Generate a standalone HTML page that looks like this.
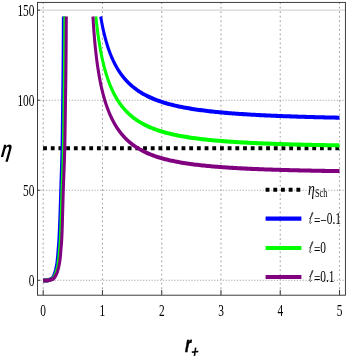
<!DOCTYPE html>
<html><head><meta charset="utf-8"><title>plot</title>
<style>
html,body{margin:0;padding:0;background:#fff;}
body{width:347px;height:360px;overflow:hidden;}
svg{display:block;}
.t{font-family:"Liberation Serif",serif;font-size:17px;fill:#000;}
.gv{stroke:#a6a6a6;stroke-width:1.1;stroke-dasharray:1.7 2.75;}
.gh{stroke:#a6a6a6;stroke-width:1.1;stroke-dasharray:1.2 1.65;}
.gh2{stroke:#a6a6a6;stroke-width:1.1;stroke-dasharray:0.9 1.1;}
.tk{stroke:#2a2a2a;stroke-width:0.9;}
.ax{font-family:"Liberation Sans",sans-serif;font-weight:bold;font-style:italic;fill:#000;}
</style></head><body>
<svg width="347" height="360" viewBox="0 0 347 360">
<rect x="0" y="0" width="347" height="360" fill="#fff"/>
<g fill="none">
<line x1="43.20" y1="2.40" x2="43.20" y2="295.20" class="gv"/>
<line x1="102.46" y1="2.40" x2="102.46" y2="295.20" class="gv"/>
<line x1="161.72" y1="2.40" x2="161.72" y2="295.20" class="gv"/>
<line x1="220.98" y1="2.40" x2="220.98" y2="295.20" class="gv"/>
<line x1="280.24" y1="2.40" x2="280.24" y2="295.20" class="gv"/>
<line x1="339.50" y1="2.40" x2="339.50" y2="295.20" class="gv"/>
<line x1="37.50" y1="280.30" x2="345.40" y2="280.30" class="gh"/>
<line x1="37.50" y1="190.25" x2="345.40" y2="190.25" class="gh"/>
<line x1="37.50" y1="100.20" x2="345.40" y2="100.20" class="gh"/>
<line x1="37.50" y1="10.15" x2="345.40" y2="10.15" class="gh2"/>

</g>
<g transform="scale(0.75,1)" fill="none" stroke-width="4.05" stroke-linejoin="round">
<path d="M57.47 148.15 H452.93" stroke="#000" stroke-width="4.05" stroke-dasharray="5.127 5.127"/>
<path d="M57.47 280.50 L62.41 280.45 L64.65 280.10 L68.75 278.78 L70.28 277.45 L71.25 276.13 L72.04 274.80 L72.74 273.48 L73.32 272.15 L73.82 270.83 L74.25 269.50 L74.64 268.18 L75.00 266.85 L75.31 265.53 L75.60 264.20 L75.85 262.88 L76.09 261.56 L76.30 260.23 L76.50 258.91 L76.67 257.58 L76.84 256.26 L76.99 254.93 L77.12 253.61 L77.25 252.28 L77.38 250.96 L77.52 249.63 L77.66 248.31 L77.81 246.98 L77.96 245.66 L78.11 244.34 L78.25 243.01 L78.38 241.69 L78.49 240.36 L78.58 239.04 L78.68 237.71 L78.77 236.39 L78.85 235.06 L78.94 233.74 L79.02 232.41 L79.10 231.09 L79.18 229.76 L79.26 228.44 L79.34 227.12 L79.41 225.79 L79.48 224.47 L79.55 223.14 L79.62 221.82 L79.69 220.49 L79.75 219.17 L79.82 217.84 L79.88 216.52 L79.94 215.19 L80.01 213.87 L80.07 212.54 L80.13 211.22 L80.19 209.89 L80.25 208.57 L80.31 207.25 L80.37 205.92 L80.42 204.60 L80.48 203.27 L80.54 201.95 L80.60 200.62 L80.66 199.30 L80.72 197.97 L80.77 196.65 L80.82 195.32 L80.87 194.00 L80.92 192.67 L80.97 191.35 L81.02 190.03 L81.07 188.70 L81.12 187.38 L81.18 186.05 L81.23 184.73 L81.29 183.40 L81.35 182.08 L81.40 180.75 L81.46 179.43 L81.52 178.10 L81.58 176.78 L81.64 175.45 L81.71 174.13 L81.77 172.81 L81.83 171.48 L81.89 170.16 L81.95 168.83 L82.01 167.51 L82.07 166.18 L82.12 164.86 L82.18 163.53 L82.23 162.21 L82.29 160.88 L82.34 159.56 L82.39 158.23 L82.44 156.91 L82.49 155.59 L82.53 154.26 L82.57 152.94 L82.61 151.61 L82.65 150.29 L82.68 148.96 L82.71 147.64 L82.75 146.31 L82.78 144.99 L82.81 143.66 L82.84 142.34 L82.87 141.01 L82.90 139.69 L82.93 138.37 L82.95 137.04 L82.98 135.72 L83.01 134.39 L83.03 133.07 L83.06 131.74 L83.08 130.42 L83.11 129.09 L83.13 127.77 L83.16 126.44 L83.18 125.12 L83.20 123.79 L83.22 122.47 L83.25 121.15 L83.27 119.82 L83.29 118.50 L83.31 117.17 L83.33 115.85 L83.36 114.52 L83.38 113.20 L83.40 111.87 L83.42 110.55 L83.44 109.22 L83.46 107.90 L83.48 106.57 L83.50 105.25 L83.52 103.93 L83.54 102.60 L83.57 101.28 L83.59 99.95 L83.61 98.63 L83.63 97.30 L83.65 95.98 L83.67 94.65 L83.70 93.33 L83.72 92.00 L83.74 90.68 L83.76 89.35 L83.78 88.03 L83.80 86.71 L83.82 85.38 L83.84 84.06 L83.87 82.73 L83.89 81.41 L83.91 80.08 L83.93 78.76 L83.95 77.43 L83.97 76.11 L83.98 74.78 L84.00 73.46 L84.02 72.13 L84.04 70.81 L84.06 69.48 L84.07 68.16 L84.09 66.84 L84.11 65.51 L84.12 64.19 L84.14 62.86 L84.15 61.54 L84.17 60.21 L84.18 58.89 L84.19 57.56 L84.21 56.24 L84.22 54.91 L84.23 53.59 L84.25 52.26 L84.26 50.94 L84.27 49.62 L84.29 48.29 L84.30 46.97 L84.31 45.64 L84.32 44.32 L84.33 42.99 L84.35 41.67 L84.36 40.34 L84.37 39.02 L84.38 37.69 L84.39 36.37 L84.40 35.04 L84.41 33.72 L84.42 32.40 L84.43 31.07 L84.44 29.75 L84.45 28.42 L84.46 27.10 L84.47 25.77 L84.48 24.45 L84.48 23.12 L84.49 21.80 L84.50 20.47 L84.51 19.15 L84.51 17.82 L84.52 16.50" stroke="#0000ff"/>
<path d="M134.25 16.50 L134.67 18.39 L135.09 20.15 L135.51 21.86 L135.93 23.51 L136.35 25.10 L136.76 26.65 L137.18 28.15 L137.60 29.60 L138.02 31.01 L138.44 32.37 L138.85 33.70 L139.27 34.99 L139.69 36.24 L140.11 37.46 L140.53 38.65 L140.95 39.80 L141.36 40.93 L141.78 42.02 L142.20 43.09 L142.62 44.13 L143.04 45.15 L143.45 46.14 L143.87 47.11 L144.29 48.06 L144.71 48.98 L145.13 49.89 L145.55 50.77 L145.96 51.63 L146.38 52.48 L146.80 53.31 L147.22 54.12 L147.64 54.91 L148.06 55.68 L148.47 56.44 L148.89 57.19 L149.31 57.91 L149.73 58.63 L150.15 59.33 L150.56 60.02 L150.98 60.69 L151.40 61.35 L151.82 62.00 L152.24 62.64 L152.66 63.26 L153.07 63.87 L153.49 64.47 L153.91 65.07 L154.33 65.65 L154.75 66.22 L155.16 66.78 L155.58 67.33 L156.00 67.87 L156.42 68.40 L156.84 68.92 L157.26 69.44 L157.67 69.94 L158.09 70.44 L158.51 70.93 L158.93 71.41 L159.35 71.88 L159.76 72.35 L160.18 72.81 L160.60 73.26 L161.02 73.71 L161.44 74.14 L161.86 74.57 L162.27 75.00 L162.69 75.42 L163.11 75.83 L163.53 76.23 L163.95 76.63 L164.37 77.03 L164.78 77.41 L165.20 77.80 L165.62 78.17 L166.04 78.54 L166.46 78.91 L166.87 79.27 L167.29 79.63 L167.71 79.98 L168.13 80.32 L168.55 80.66 L168.97 81.00 L169.38 81.33 L169.80 81.66 L170.22 81.98 L170.64 82.30 L171.06 82.62 L171.47 82.93 L171.89 83.23 L172.31 83.54 L172.73 83.83 L173.15 84.13 L173.57 84.42 L173.98 84.71 L174.40 84.99 L174.82 85.27 L175.24 85.55 L175.66 85.82 L176.08 86.09 L176.49 86.35 L176.91 86.62 L177.33 86.88 L177.75 87.13 L178.17 87.39 L178.58 87.64 L179.00 87.88 L179.42 88.13 L179.84 88.37 L180.26 88.61 L180.68 88.84 L181.09 89.08 L181.51 89.31 L181.93 89.54 L182.35 89.76 L182.77 89.98 L183.18 90.20 L183.60 90.42 L184.02 90.64 L186.28 91.76 L188.54 92.81 L190.79 93.81 L193.05 94.75 L195.31 95.64 L197.57 96.48 L199.82 97.28 L202.08 98.04 L204.34 98.76 L206.60 99.45 L208.85 100.10 L211.11 100.73 L213.37 101.32 L215.63 101.89 L217.88 102.43 L220.14 102.95 L222.40 103.44 L224.66 103.92 L226.91 104.37 L229.17 104.81 L231.43 105.22 L233.69 105.63 L235.94 106.01 L238.20 106.38 L240.46 106.74 L242.72 107.08 L244.97 107.41 L247.23 107.73 L249.49 108.04 L251.75 108.33 L254.00 108.62 L256.26 108.89 L258.52 109.16 L260.78 109.41 L263.03 109.66 L265.29 109.90 L267.55 110.13 L269.81 110.36 L272.06 110.58 L274.32 110.79 L276.58 110.99 L278.84 111.19 L281.09 111.38 L283.35 111.56 L285.61 111.74 L287.87 111.92 L290.12 112.09 L292.38 112.25 L294.64 112.41 L296.90 112.57 L299.16 112.72 L301.41 112.86 L303.67 113.01 L305.93 113.15 L308.19 113.28 L310.44 113.41 L312.70 113.54 L314.96 113.66 L317.22 113.79 L319.47 113.90 L321.73 114.02 L323.99 114.13 L326.25 114.24 L328.50 114.35 L330.76 114.45 L333.02 114.55 L335.28 114.65 L337.53 114.75 L339.79 114.84 L342.05 114.93 L344.31 115.02 L346.56 115.11 L348.82 115.20 L351.08 115.28 L353.34 115.36 L355.59 115.44 L357.85 115.52 L360.11 115.60 L362.37 115.67 L364.62 115.74 L366.88 115.81 L369.14 115.88 L371.40 115.95 L373.65 116.02 L375.91 116.09 L378.17 116.15 L380.43 116.21 L382.68 116.27 L384.94 116.33 L387.20 116.39 L389.46 116.45 L391.71 116.51 L393.97 116.56 L396.23 116.62 L398.49 116.67 L400.74 116.72 L403.00 116.77 L405.26 116.82 L407.52 116.87 L409.77 116.92 L412.03 116.97 L414.29 117.02 L416.55 117.06 L418.80 117.11 L421.06 117.15 L423.32 117.19 L425.58 117.24 L427.83 117.28 L430.09 117.32 L432.35 117.36 L434.61 117.40 L436.86 117.44 L439.12 117.48 L441.38 117.51 L443.64 117.55 L445.89 117.59 L448.15 117.62 L450.41 117.66 L452.67 117.69" stroke="#0000ff"/>
<path d="M57.47 280.50 L62.87 280.45 L65.32 280.10 L69.82 278.78 L71.50 277.45 L72.56 276.13 L73.43 274.80 L74.19 273.48 L74.83 272.15 L75.37 270.83 L75.85 269.50 L76.28 268.18 L76.67 266.85 L77.02 265.53 L77.33 264.20 L77.61 262.88 L77.86 261.56 L78.09 260.23 L78.30 258.91 L78.50 257.58 L78.67 256.26 L78.83 254.93 L78.97 253.61 L79.10 252.28 L79.24 250.96 L79.38 249.63 L79.53 248.31 L79.68 246.98 L79.84 245.66 L79.99 244.34 L80.13 243.01 L80.25 241.69 L80.36 240.36 L80.46 239.04 L80.55 237.71 L80.63 236.39 L80.71 235.06 L80.79 233.74 L80.87 232.41 L80.94 231.09 L81.02 229.76 L81.09 228.44 L81.15 227.12 L81.22 225.79 L81.28 224.47 L81.35 223.14 L81.41 221.82 L81.47 220.49 L81.52 219.17 L81.58 217.84 L81.64 216.52 L81.69 215.19 L81.75 213.87 L81.80 212.54 L81.85 211.22 L81.91 209.89 L81.96 208.57 L82.01 207.25 L82.07 205.92 L82.12 204.60 L82.18 203.27 L82.23 201.95 L82.29 200.62 L82.34 199.30 L82.40 197.97 L82.45 196.65 L82.50 195.32 L82.56 194.00 L82.61 192.67 L82.66 191.35 L82.71 190.03 L82.76 188.70 L82.82 187.38 L82.88 186.05 L82.94 184.73 L83.00 183.40 L83.06 182.08 L83.12 180.75 L83.18 179.43 L83.25 178.10 L83.31 176.78 L83.38 175.45 L83.44 174.13 L83.51 172.81 L83.57 171.48 L83.64 170.16 L83.70 168.83 L83.77 167.51 L83.83 166.18 L83.89 164.86 L83.95 163.53 L84.01 162.21 L84.07 160.88 L84.12 159.56 L84.18 158.23 L84.23 156.91 L84.28 155.59 L84.33 154.26 L84.37 152.94 L84.41 151.61 L84.45 150.29 L84.49 148.96 L84.52 147.64 L84.56 146.31 L84.59 144.99 L84.63 143.66 L84.66 142.34 L84.69 141.01 L84.72 139.69 L84.75 138.37 L84.78 137.04 L84.81 135.72 L84.84 134.39 L84.87 133.07 L84.89 131.74 L84.92 130.42 L84.95 129.09 L84.97 127.77 L85.00 126.44 L85.02 125.12 L85.05 123.79 L85.07 122.47 L85.10 121.15 L85.12 119.82 L85.14 118.50 L85.17 117.17 L85.19 115.85 L85.21 114.52 L85.23 113.20 L85.26 111.87 L85.28 110.55 L85.30 109.22 L85.32 107.90 L85.35 106.57 L85.37 105.25 L85.39 103.93 L85.42 102.60 L85.44 101.28 L85.46 99.95 L85.48 98.63 L85.51 97.30 L85.53 95.98 L85.55 94.65 L85.58 93.33 L85.60 92.00 L85.62 90.68 L85.65 89.35 L85.67 88.03 L85.69 86.71 L85.71 85.38 L85.74 84.06 L85.76 82.73 L85.78 81.41 L85.80 80.08 L85.82 78.76 L85.85 77.43 L85.87 76.11 L85.89 74.78 L85.91 73.46 L85.93 72.13 L85.95 70.81 L85.96 69.48 L85.98 68.16 L86.00 66.84 L86.02 65.51 L86.04 64.19 L86.05 62.86 L86.07 61.54 L86.08 60.21 L86.10 58.89 L86.11 57.56 L86.13 56.24 L86.14 54.91 L86.15 53.59 L86.17 52.26 L86.18 50.94 L86.20 49.62 L86.21 48.29 L86.22 46.97 L86.24 45.64 L86.25 44.32 L86.26 42.99 L86.27 41.67 L86.29 40.34 L86.30 39.02 L86.31 37.69 L86.32 36.37 L86.33 35.04 L86.34 33.72 L86.36 32.40 L86.37 31.07 L86.38 29.75 L86.39 28.42 L86.40 27.10 L86.40 25.77 L86.41 24.45 L86.42 23.12 L86.43 21.80 L86.44 20.47 L86.45 19.15 L86.45 17.82 L86.46 16.50" stroke="#00ff00"/>
<path d="M127.79 16.50 L128.26 19.93 L128.73 23.09 L129.21 26.08 L129.68 28.94 L130.15 31.67 L130.62 34.27 L131.10 36.77 L131.57 39.16 L132.04 41.46 L132.51 43.66 L132.99 45.78 L133.46 47.82 L133.93 49.78 L134.40 51.67 L134.88 53.50 L135.35 55.27 L135.82 56.97 L136.29 58.62 L136.77 60.22 L137.24 61.76 L137.71 63.26 L138.18 64.71 L138.66 66.12 L139.13 67.48 L139.60 68.81 L140.07 70.10 L140.55 71.35 L141.02 72.57 L141.49 73.75 L141.96 74.91 L142.44 76.03 L142.91 77.12 L143.38 78.19 L143.86 79.23 L144.33 80.24 L144.80 81.23 L145.27 82.19 L145.75 83.13 L146.22 84.05 L146.69 84.94 L147.16 85.82 L147.64 86.67 L148.11 87.51 L148.58 88.33 L149.05 89.13 L149.53 89.91 L150.00 90.67 L150.47 91.42 L150.94 92.15 L151.42 92.87 L151.89 93.57 L152.36 94.26 L152.83 94.93 L153.31 95.59 L153.78 96.24 L154.25 96.87 L154.72 97.49 L155.20 98.10 L155.67 98.70 L156.14 99.28 L156.61 99.86 L157.09 100.42 L157.56 100.97 L158.03 101.52 L158.50 102.05 L158.98 102.57 L159.45 103.09 L159.92 103.59 L160.39 104.09 L160.87 104.57 L161.34 105.05 L161.81 105.52 L162.28 105.98 L162.76 106.44 L163.23 106.88 L163.70 107.32 L164.17 107.75 L164.65 108.18 L165.12 108.59 L165.59 109.00 L166.06 109.41 L166.54 109.80 L167.01 110.19 L167.48 110.58 L167.95 110.96 L168.43 111.33 L168.90 111.70 L169.37 112.06 L169.84 112.41 L170.32 112.76 L170.79 113.10 L171.26 113.44 L171.74 113.78 L172.21 114.11 L172.68 114.43 L173.15 114.75 L173.63 115.06 L174.10 115.37 L174.57 115.68 L175.04 115.98 L175.52 116.28 L175.99 116.57 L176.46 116.86 L176.93 117.14 L177.41 117.42 L177.88 117.70 L178.35 117.97 L178.82 118.24 L179.30 118.50 L179.77 118.76 L180.24 119.02 L180.71 119.27 L181.19 119.52 L181.66 119.77 L182.13 120.01 L182.60 120.25 L183.08 120.49 L183.55 120.73 L184.02 120.96 L186.28 122.02 L188.54 123.02 L190.79 123.96 L193.05 124.85 L195.31 125.69 L197.57 126.48 L199.82 127.23 L202.08 127.94 L204.34 128.62 L206.60 129.26 L208.85 129.86 L211.11 130.44 L213.37 130.99 L215.63 131.52 L217.88 132.02 L220.14 132.49 L222.40 132.95 L224.66 133.38 L226.91 133.80 L229.17 134.20 L231.43 134.58 L233.69 134.94 L235.94 135.29 L238.20 135.63 L240.46 135.95 L242.72 136.26 L244.97 136.56 L247.23 136.84 L249.49 137.12 L251.75 137.38 L254.00 137.64 L256.26 137.89 L258.52 138.12 L260.78 138.35 L263.03 138.57 L265.29 138.78 L267.55 138.99 L269.81 139.19 L272.06 139.38 L274.32 139.56 L276.58 139.74 L278.84 139.92 L281.09 140.08 L283.35 140.25 L285.61 140.40 L287.87 140.56 L290.12 140.70 L292.38 140.85 L294.64 140.98 L296.90 141.12 L299.16 141.25 L301.41 141.38 L303.67 141.50 L305.93 141.62 L308.19 141.73 L310.44 141.85 L312.70 141.96 L314.96 142.06 L317.22 142.17 L319.47 142.27 L321.73 142.37 L323.99 142.46 L326.25 142.55 L328.50 142.64 L330.76 142.73 L333.02 142.82 L335.28 142.90 L337.53 142.98 L339.79 143.06 L342.05 143.14 L344.31 143.22 L346.56 143.29 L348.82 143.36 L351.08 143.43 L353.34 143.50 L355.59 143.57 L357.85 143.63 L360.11 143.70 L362.37 143.76 L364.62 143.82 L366.88 143.88 L369.14 143.94 L371.40 143.99 L373.65 144.05 L375.91 144.10 L378.17 144.16 L380.43 144.21 L382.68 144.26 L384.94 144.31 L387.20 144.36 L389.46 144.40 L391.71 144.45 L393.97 144.50 L396.23 144.54 L398.49 144.58 L400.74 144.63 L403.00 144.67 L405.26 144.71 L407.52 144.75 L409.77 144.79 L412.03 144.83 L414.29 144.87 L416.55 144.90 L418.80 144.94 L421.06 144.97 L423.32 145.01 L425.58 145.04 L427.83 145.08 L430.09 145.11 L432.35 145.14 L434.61 145.17 L436.86 145.21 L439.12 145.24 L441.38 145.27 L443.64 145.30 L445.89 145.33 L448.15 145.35 L450.41 145.38 L452.67 145.41" stroke="#00ff00"/>
<path d="M57.47 280.50 L63.33 280.45 L66.00 280.10 L70.89 278.78 L72.72 277.45 L73.87 276.13 L74.82 274.80 L75.65 273.48 L76.34 272.15 L76.93 270.83 L77.45 269.50 L77.92 268.18 L78.34 266.85 L78.72 265.53 L79.06 264.20 L79.36 262.88 L79.64 261.56 L79.88 260.23 L80.11 258.91 L80.32 257.58 L80.50 256.26 L80.67 254.93 L80.81 253.61 L80.96 252.28 L81.10 250.96 L81.24 249.63 L81.39 248.31 L81.55 246.98 L81.71 245.66 L81.86 244.34 L82.01 243.01 L82.13 241.69 L82.24 240.36 L82.33 239.04 L82.41 237.71 L82.50 236.39 L82.57 235.06 L82.65 233.74 L82.72 232.41 L82.79 231.09 L82.85 229.76 L82.91 228.44 L82.97 227.12 L83.03 225.79 L83.09 224.47 L83.14 223.14 L83.19 221.82 L83.24 220.49 L83.29 219.17 L83.34 217.84 L83.39 216.52 L83.44 215.19 L83.49 213.87 L83.53 212.54 L83.58 211.22 L83.63 209.89 L83.67 208.57 L83.72 207.25 L83.77 205.92 L83.82 204.60 L83.87 203.27 L83.92 201.95 L83.97 200.62 L84.03 199.30 L84.08 197.97 L84.13 196.65 L84.19 195.32 L84.24 194.00 L84.29 192.67 L84.34 191.35 L84.40 190.03 L84.46 188.70 L84.52 187.38 L84.58 186.05 L84.64 184.73 L84.70 183.40 L84.77 182.08 L84.84 180.75 L84.90 179.43 L84.97 178.10 L85.04 176.78 L85.11 175.45 L85.18 174.13 L85.25 172.81 L85.32 171.48 L85.39 170.16 L85.46 168.83 L85.53 167.51 L85.59 166.18 L85.66 164.86 L85.72 163.53 L85.79 162.21 L85.85 160.88 L85.91 159.56 L85.96 158.23 L86.02 156.91 L86.07 155.59 L86.12 154.26 L86.17 152.94 L86.22 151.61 L86.26 150.29 L86.30 148.96 L86.34 147.64 L86.37 146.31 L86.41 144.99 L86.44 143.66 L86.48 142.34 L86.51 141.01 L86.55 139.69 L86.58 138.37 L86.61 137.04 L86.64 135.72 L86.67 134.39 L86.70 133.07 L86.73 131.74 L86.76 130.42 L86.79 129.09 L86.81 127.77 L86.84 126.44 L86.87 125.12 L86.89 123.79 L86.92 122.47 L86.94 121.15 L86.97 119.82 L86.99 118.50 L87.02 117.17 L87.04 115.85 L87.07 114.52 L87.09 113.20 L87.12 111.87 L87.14 110.55 L87.16 109.22 L87.19 107.90 L87.21 106.57 L87.24 105.25 L87.26 103.93 L87.29 102.60 L87.31 101.28 L87.33 99.95 L87.36 98.63 L87.38 97.30 L87.41 95.98 L87.43 94.65 L87.46 93.33 L87.48 92.00 L87.51 90.68 L87.53 89.35 L87.56 88.03 L87.58 86.71 L87.60 85.38 L87.63 84.06 L87.65 82.73 L87.68 81.41 L87.70 80.08 L87.72 78.76 L87.74 77.43 L87.77 76.11 L87.79 74.78 L87.81 73.46 L87.83 72.13 L87.85 70.81 L87.87 69.48 L87.89 68.16 L87.91 66.84 L87.93 65.51 L87.95 64.19 L87.96 62.86 L87.98 61.54 L88.00 60.21 L88.01 58.89 L88.03 57.56 L88.04 56.24 L88.06 54.91 L88.07 53.59 L88.09 52.26 L88.10 50.94 L88.12 49.62 L88.13 48.29 L88.15 46.97 L88.16 45.64 L88.18 44.32 L88.19 42.99 L88.20 41.67 L88.22 40.34 L88.23 39.02 L88.24 37.69 L88.25 36.37 L88.27 35.04 L88.28 33.72 L88.29 32.40 L88.30 31.07 L88.31 29.75 L88.32 28.42 L88.33 27.10 L88.34 25.77 L88.35 24.45 L88.36 23.12 L88.37 21.80 L88.38 20.47 L88.39 19.15 L88.39 17.82 L88.40 16.50" stroke="#800080"/>
<path d="M123.92 16.50 L124.43 22.86 L124.93 28.45 L125.44 33.52 L125.94 38.16 L126.45 42.43 L126.95 46.39 L127.46 50.07 L127.96 53.51 L128.47 56.74 L128.97 59.79 L129.48 62.66 L129.98 65.38 L130.49 67.96 L130.99 70.42 L131.50 72.76 L132.00 75.00 L132.51 77.14 L133.01 79.19 L133.52 81.15 L134.02 83.04 L134.53 84.86 L135.03 86.60 L135.54 88.29 L136.04 89.91 L136.55 91.48 L137.05 93.00 L137.56 94.46 L138.06 95.88 L138.57 97.25 L139.07 98.58 L139.58 99.88 L140.08 101.13 L140.59 102.34 L141.09 103.52 L141.60 104.67 L142.10 105.79 L142.61 106.87 L143.11 107.93 L143.62 108.96 L144.12 109.96 L144.63 110.93 L145.13 111.88 L145.64 112.81 L146.14 113.71 L146.65 114.60 L147.15 115.46 L147.66 116.30 L148.16 117.12 L148.67 117.92 L149.17 118.70 L149.68 119.47 L150.18 120.22 L150.69 120.95 L151.19 121.66 L151.70 122.36 L152.20 123.05 L152.71 123.72 L153.21 124.38 L153.72 125.02 L154.22 125.65 L154.73 126.26 L155.23 126.87 L155.74 127.46 L156.24 128.04 L156.75 128.61 L157.25 129.17 L157.76 129.71 L158.26 130.25 L158.77 130.78 L159.27 131.29 L159.78 131.80 L160.28 132.30 L160.79 132.78 L161.30 133.26 L161.80 133.73 L162.31 134.19 L162.81 134.65 L163.32 135.09 L163.82 135.53 L164.33 135.96 L164.83 136.38 L165.34 136.80 L165.84 137.20 L166.35 137.60 L166.85 138.00 L167.36 138.39 L167.86 138.77 L168.37 139.14 L168.87 139.51 L169.38 139.87 L169.88 140.23 L170.39 140.58 L170.89 140.92 L171.40 141.26 L171.90 141.60 L172.41 141.93 L172.91 142.25 L173.42 142.57 L173.92 142.88 L174.43 143.19 L174.93 143.49 L175.44 143.79 L175.94 144.09 L176.45 144.38 L176.95 144.67 L177.46 144.95 L177.96 145.22 L178.47 145.50 L178.97 145.77 L179.48 146.03 L179.98 146.29 L180.49 146.55 L180.99 146.81 L181.50 147.06 L182.00 147.30 L182.51 147.55 L183.01 147.79 L183.52 148.02 L184.02 148.26 L186.28 149.26 L188.54 150.21 L190.79 151.10 L193.05 151.94 L195.31 152.73 L197.57 153.48 L199.82 154.18 L202.08 154.86 L204.34 155.49 L206.60 156.10 L208.85 156.67 L211.11 157.22 L213.37 157.73 L215.63 158.23 L217.88 158.70 L220.14 159.15 L222.40 159.58 L224.66 159.99 L226.91 160.38 L229.17 160.75 L231.43 161.11 L233.69 161.45 L235.94 161.78 L238.20 162.10 L240.46 162.40 L242.72 162.69 L244.97 162.97 L247.23 163.24 L249.49 163.50 L251.75 163.74 L254.00 163.98 L256.26 164.21 L258.52 164.43 L260.78 164.65 L263.03 164.85 L265.29 165.05 L267.55 165.24 L269.81 165.43 L272.06 165.60 L274.32 165.78 L276.58 165.94 L278.84 166.10 L281.09 166.26 L283.35 166.41 L285.61 166.55 L287.87 166.70 L290.12 166.83 L292.38 166.96 L294.64 167.09 L296.90 167.22 L299.16 167.34 L301.41 167.45 L303.67 167.57 L305.93 167.68 L308.19 167.79 L310.44 167.89 L312.70 167.99 L314.96 168.09 L317.22 168.18 L319.47 168.28 L321.73 168.37 L323.99 168.45 L326.25 168.54 L328.50 168.62 L330.76 168.70 L333.02 168.78 L335.28 168.86 L337.53 168.93 L339.79 169.00 L342.05 169.07 L344.31 169.14 L346.56 169.21 L348.82 169.28 L351.08 169.34 L353.34 169.40 L355.59 169.46 L357.85 169.52 L360.11 169.58 L362.37 169.64 L364.62 169.69 L366.88 169.75 L369.14 169.80 L371.40 169.85 L373.65 169.90 L375.91 169.95 L378.17 170.00 L380.43 170.04 L382.68 170.09 L384.94 170.14 L387.20 170.18 L389.46 170.22 L391.71 170.26 L393.97 170.30 L396.23 170.35 L398.49 170.38 L400.74 170.42 L403.00 170.46 L405.26 170.50 L407.52 170.53 L409.77 170.57 L412.03 170.60 L414.29 170.64 L416.55 170.67 L418.80 170.70 L421.06 170.74 L423.32 170.77 L425.58 170.80 L427.83 170.83 L430.09 170.86 L432.35 170.89 L434.61 170.91 L436.86 170.94 L439.12 170.97 L441.38 171.00 L443.64 171.02 L445.89 171.05 L448.15 171.07 L450.41 171.10 L452.67 171.12" stroke="#800080"/>

<path d="M354.13 189.80 H401.87" stroke="#000" stroke-width="4.05" stroke-dasharray="5.133 5.133"/>
<path d="M354.13 218.60 H401.87" stroke="#0000ff"/>
<path d="M354.13 247.90 H401.87" stroke="#00ff00"/>
<path d="M354.13 277.00 H401.87" stroke="#800080"/>

</g>
<rect x="37.5" y="2.4" width="307.90" height="292.80" fill="none" stroke="#2a2a2a" stroke-width="0.9"/>
<line x1="43.20" y1="295.20" x2="43.20" y2="289.90" class="tk"/>
<line x1="102.46" y1="295.20" x2="102.46" y2="289.90" class="tk"/>
<line x1="161.72" y1="295.20" x2="161.72" y2="289.90" class="tk"/>
<line x1="220.98" y1="295.20" x2="220.98" y2="289.90" class="tk"/>
<line x1="280.24" y1="295.20" x2="280.24" y2="289.90" class="tk"/>
<line x1="339.50" y1="295.20" x2="339.50" y2="289.90" class="tk"/>
<line x1="37.50" y1="280.30" x2="40.10" y2="280.30" class="tk"/>
<line x1="37.50" y1="190.25" x2="40.10" y2="190.25" class="tk"/>
<line x1="37.50" y1="100.20" x2="40.10" y2="100.20" class="tk"/>
<line x1="37.50" y1="10.15" x2="40.10" y2="10.15" class="tk"/>

<g opacity="0.999">
<text transform="translate(43.20,316.1) scale(0.670,1)" text-anchor="middle" class="t">0</text>
<text transform="translate(102.46,316.1) scale(0.670,1)" text-anchor="middle" class="t">1</text>
<text transform="translate(161.72,316.1) scale(0.670,1)" text-anchor="middle" class="t">2</text>
<text transform="translate(220.98,316.1) scale(0.670,1)" text-anchor="middle" class="t">3</text>
<text transform="translate(280.24,316.1) scale(0.670,1)" text-anchor="middle" class="t">4</text>
<text transform="translate(339.50,316.1) scale(0.670,1)" text-anchor="middle" class="t">5</text>
<text transform="translate(34.5,286.30) scale(0.670,1)" text-anchor="end" class="t">0</text>
<text transform="translate(34.5,196.25) scale(0.670,1)" text-anchor="end" class="t">50</text>
<text transform="translate(34.5,106.20) scale(0.670,1)" text-anchor="end" class="t">100</text>
<text transform="translate(34.5,16.15) scale(0.670,1)" text-anchor="end" class="t">150</text>

<text transform="translate(308.1,194.9) scale(0.76,1)" class="t" font-style="italic" style="font-size:18px">η</text>
<text transform="translate(315.0,197.0) scale(0.62,1)" class="t" style="font-size:13.4px">Sch</text>
<path transform="translate(309.3,224.00) scale(0.88,1)" d="M0.3,-5.3 C1.8,-6.8 3.9,-9.8 4.1,-11.1 C4.2,-11.9 3.5,-11.9 3.1,-10.9 C2.2,-8.5 0.8,-3.6 0.6,-1.6 C0.5,-0.3 1.2,-0.1 2.3,-1.3" fill="none" stroke="#1a1a1a" stroke-width="0.85" stroke-linecap="round"/>
<text transform="translate(313.9,224.00) scale(0.670,1)" class="t"><tspan dy="1.7">=−</tspan><tspan dy="-1.7">0.1</tspan></text>
<path transform="translate(309.3,253.20) scale(0.88,1)" d="M0.3,-5.3 C1.8,-6.8 3.9,-9.8 4.1,-11.1 C4.2,-11.9 3.5,-11.9 3.1,-10.9 C2.2,-8.5 0.8,-3.6 0.6,-1.6 C0.5,-0.3 1.2,-0.1 2.3,-1.3" fill="none" stroke="#1a1a1a" stroke-width="0.85" stroke-linecap="round"/>
<text transform="translate(313.9,253.20) scale(0.670,1)" class="t"><tspan dy="1.7">=</tspan><tspan dy="-1.7">0</tspan></text>
<path transform="translate(309.3,282.00) scale(0.88,1)" d="M0.3,-5.3 C1.8,-6.8 3.9,-9.8 4.1,-11.1 C4.2,-11.9 3.5,-11.9 3.1,-10.9 C2.2,-8.5 0.8,-3.6 0.6,-1.6 C0.5,-0.3 1.2,-0.1 2.3,-1.3" fill="none" stroke="#1a1a1a" stroke-width="0.85" stroke-linecap="round"/>
<text transform="translate(313.9,282.00) scale(0.670,1)" class="t"><tspan dy="1.7">=</tspan><tspan dy="-1.7">0.1</tspan></text>

<text transform="translate(0.4,157.0) scale(0.74,1) skewX(-10)" class="ax" font-size="23.4">η</text>
<text transform="translate(184.9,352) scale(0.64,1) skewX(-4)" class="ax" font-size="22.6" stroke="#000" stroke-width="0.7">r</text>
<path d="M191.8 352.1 L198.4 351.5 M195.7 347.6 L194.4 355.9" stroke="#000" stroke-width="1.6" fill="none"/>
</g>
</svg>
</body></html>
